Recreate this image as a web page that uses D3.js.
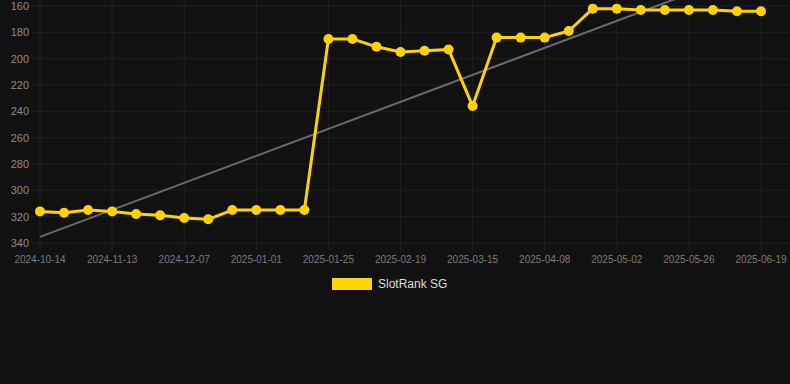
<!DOCTYPE html>
<html>
<head>
<meta charset="utf-8">
<script src="https://cdn.jsdelivr.net/npm/d3@7"></script>
<style>
  html, body { margin: 0; padding: 0; background: #111111; }
  svg { display: block; font-family: "Liberation Sans", Arial, sans-serif; }
</style>
</head>
<body>
<script>
const width = 790;
const height = 384;

// Category dates (every third one is shown on the axis)
const dates = [
  "2024-10-14", "2024-10-24", "2024-11-03", "2024-11-13", "2024-11-21", "2024-11-29",
  "2024-12-07", "2024-12-15", "2024-12-23", "2025-01-01", "2025-01-09", "2025-01-17",
  "2025-01-25", "2025-02-02", "2025-02-10", "2025-02-19", "2025-02-27", "2025-03-07",
  "2025-03-15", "2025-03-23", "2025-03-31", "2025-04-08", "2025-04-16", "2025-04-24",
  "2025-05-02", "2025-05-10", "2025-05-18", "2025-05-26", "2025-06-03", "2025-06-11",
  "2025-06-19"
];

// Rank values (SlotRank SG)
const ranks = [
  316, 317, 315, 316, 318, 319,
  321, 322, 315, 315, 315, 315,
  185, 185, 191, 195, 194, 193,
  236, 184, 184, 184, 179, 162,
  162, 163, 163, 163, 163, 164,
  164
];

const yTicks = [160, 180, 200, 220, 240, 260, 280, 300, 320, 340];
const seriesName = "SlotRank SG";

const svg = d3.select("body")
  .append("svg")
  .attr("width", width)
  .attr("height", height);

const x = d3.scalePoint().domain(dates).range([40, 761]);
const y = d3.scaleLinear().domain([160, 340]).range([6, 243]);

const gridColor = "#202020";

// Horizontal grid lines
svg.append("g")
  .selectAll("line")
  .data(yTicks)
  .enter()
  .append("line")
  .attr("x1", 32)
  .attr("x2", width)
  .attr("y1", d => y(d))
  .attr("y2", d => y(d))
  .attr("stroke", gridColor)
  .attr("stroke-width", 1);

// Vertical grid lines at labelled dates
const shownDates = dates.filter((d, i) => i % 3 === 0);
svg.append("g")
  .selectAll("line")
  .data(shownDates)
  .enter()
  .append("line")
  .attr("x1", d => x(d))
  .attr("x2", d => x(d))
  .attr("y1", 0)
  .attr("y2", 251)
  .attr("stroke", gridColor)
  .attr("stroke-width", 1);

// Y labels
svg.append("g")
  .selectAll("text")
  .data(yTicks)
  .enter()
  .append("text")
  .attr("x", 29)
  .attr("y", d => y(d))
  .attr("dy", "0.36em")
  .attr("text-anchor", "end")
  .attr("fill", "#8c8c8c")
  .attr("font-size", 11)
  .text(d => d);

// X labels
svg.append("g")
  .selectAll("text")
  .data(shownDates)
  .enter()
  .append("text")
  .attr("x", d => x(d))
  .attr("y", 263)
  .attr("text-anchor", "middle")
  .attr("fill", "#7c7c7c")
  .attr("font-size", 10)
  .text(d => d);

// Linear trend (least squares over the series)
const idx = d3.range(ranks.length);
const mx = d3.mean(idx);
const my = d3.mean(ranks);
const slope = d3.sum(idx, i => (i - mx) * (ranks[i] - my)) / d3.sum(idx, i => (i - mx) * (i - mx));
const icpt = my - slope * mx;

svg.append("line")
  .attr("x1", x(dates[0]))
  .attr("y1", y(icpt))
  .attr("x2", x(dates[dates.length - 1]))
  .attr("y2", y(icpt + slope * (ranks.length - 1)))
  .attr("stroke", "#6b6b6b")
  .attr("stroke-width", 2);

// Series line
const line = d3.line()
  .x((d, i) => x(dates[i]))
  .y(d => y(d));

const gold = "#ffd200";

svg.append("path")
  .datum(ranks)
  .attr("fill", "none")
  .attr("stroke", gold)
  .attr("stroke-width", 3)
  .attr("stroke-linejoin", "round")
  .attr("d", line);

svg.append("g")
  .selectAll("circle")
  .data(ranks)
  .enter()
  .append("circle")
  .attr("cx", (d, i) => x(dates[i]))
  .attr("cy", d => y(d))
  .attr("r", 5)
  .attr("fill", gold);

// Legend
const legend = svg.append("g").attr("transform", "translate(332, 278)");
legend.append("rect")
  .attr("width", 40)
  .attr("height", 12)
  .attr("fill", gold);
legend.append("text")
  .attr("x", 46)
  .attr("y", 6)
  .attr("dy", "0.36em")
  .attr("fill", "#dddddd")
  .attr("font-size", 12)
  .text(seriesName);
</script>
</body>
</html>
